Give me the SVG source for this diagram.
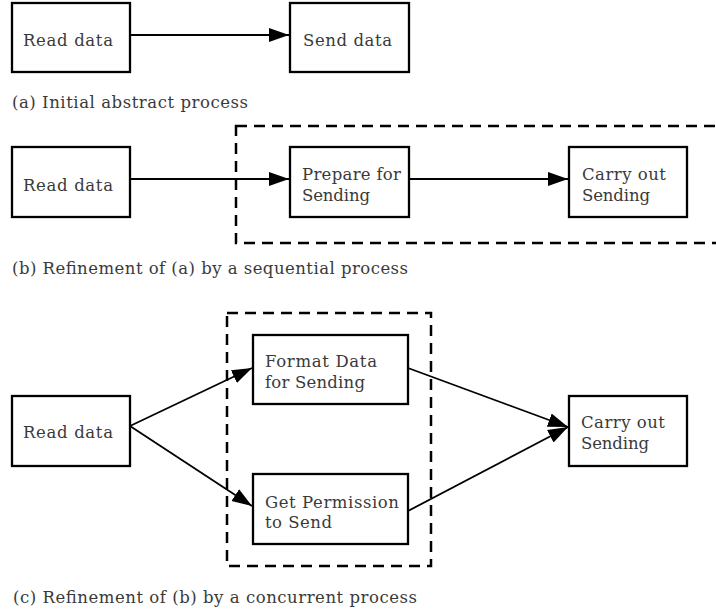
<svg xmlns="http://www.w3.org/2000/svg" width="716" height="613" viewBox="0 0 716 613">
<style>
  .box { fill: #fff; stroke: #000; stroke-width: 2.3; }
  .lbl { font-family: "DejaVu Serif", "Liberation Serif", serif; font-size: 16.5px; fill: #3a3a3a; }
  .cap { font-family: "DejaVu Serif", "Liberation Serif", serif; font-size: 16.5px; fill: #3a3a3a; }
  .edge { fill: none; stroke: #000; stroke-width: 2.2; marker-end: url(#arr); }
  .edge2 { fill: none; stroke: #000; stroke-width: 1.8; marker-end: url(#arr); }
  .group { fill: none; stroke: #000; stroke-width: 2.5; stroke-dasharray: 11 7; }
</style>
<defs>
  <marker id="arr" markerUnits="userSpaceOnUse" markerWidth="22" markerHeight="15" refX="20" refY="7" orient="auto">
    <path d="M0,0 L20,7 L0,14 z" fill="#000"/>
  </marker>
</defs>
<rect width="716" height="613" fill="#fff"/>

<!-- (a) -->
<g id="a-read"><rect class="box" x="12" y="3" width="118" height="69"/><text class="lbl" x="23" y="46" textLength="90" lengthAdjust="spacing">Read data</text></g>
<g id="a-send"><rect class="box" x="290" y="3" width="119" height="69"/><text class="lbl" x="303" y="46" textLength="89" lengthAdjust="spacing">Send data</text></g>
<text class="cap" x="12" y="108" textLength="236" lengthAdjust="spacing">(a) Initial abstract process</text>

<!-- (b) -->
<rect id="b-group" class="group" x="236" y="126" width="500" height="117"/>
<g id="b-read"><rect class="box" x="12" y="147" width="118" height="70"/><text class="lbl" x="23" y="191" textLength="90" lengthAdjust="spacing">Read data</text></g>
<g id="b-prepare"><rect class="box" x="290" y="147" width="119" height="70"/><text class="lbl" x="302" y="180" textLength="99" lengthAdjust="spacing">Prepare for</text><text class="lbl" x="302" y="201" textLength="68" lengthAdjust="spacing">Sending</text></g>
<g id="b-carry"><rect class="box" x="569" y="147" width="118" height="70"/><text class="lbl" x="582" y="180" textLength="84" lengthAdjust="spacing">Carry out</text><text class="lbl" x="582" y="201" textLength="68" lengthAdjust="spacing">Sending</text></g>
<text class="cap" x="12" y="274" textLength="396" lengthAdjust="spacing">(b) Refinement of (a) by a sequential process</text>

<!-- (c) -->
<rect id="c-group" class="group" x="227" y="313" width="204" height="253"/>
<g id="c-read"><rect class="box" x="12" y="396" width="118" height="70"/><text class="lbl" x="23" y="438" textLength="90" lengthAdjust="spacing">Read data</text></g>
<g id="c-format"><rect class="box" x="253" y="335" width="155" height="69"/><text class="lbl" x="265" y="367" textLength="112" lengthAdjust="spacing">Format Data</text><text class="lbl" x="265" y="388" textLength="100" lengthAdjust="spacing">for Sending</text></g>
<g id="c-permission"><rect class="box" x="253" y="474" width="155" height="70"/><text class="lbl" x="265" y="508" textLength="134" lengthAdjust="spacing">Get Permission</text><text class="lbl" x="265" y="528" textLength="67" lengthAdjust="spacing">to Send</text></g>
<g id="c-carry"><rect class="box" x="569" y="396" width="118" height="70"/><text class="lbl" x="581" y="428" textLength="84" lengthAdjust="spacing">Carry out</text><text class="lbl" x="581" y="449" textLength="68" lengthAdjust="spacing">Sending</text></g>
<text class="cap" x="13" y="603" textLength="404" lengthAdjust="spacing">(c) Refinement of (b) by a concurrent process</text>

<g id="connectors">
  <line class="edge" x1="130" y1="35" x2="289" y2="35"/>
  <line class="edge" x1="130" y1="179" x2="289" y2="179"/>
  <line class="edge" x1="409" y1="179" x2="568" y2="179"/>
  <line class="edge2" x1="130" y1="426" x2="252" y2="368"/>
  <line class="edge2" x1="130" y1="426" x2="252" y2="506"/>
  <line class="edge2" x1="408" y1="368" x2="568" y2="427"/>
  <line class="edge2" x1="408" y1="511" x2="568" y2="427"/>
</g>
</svg>
